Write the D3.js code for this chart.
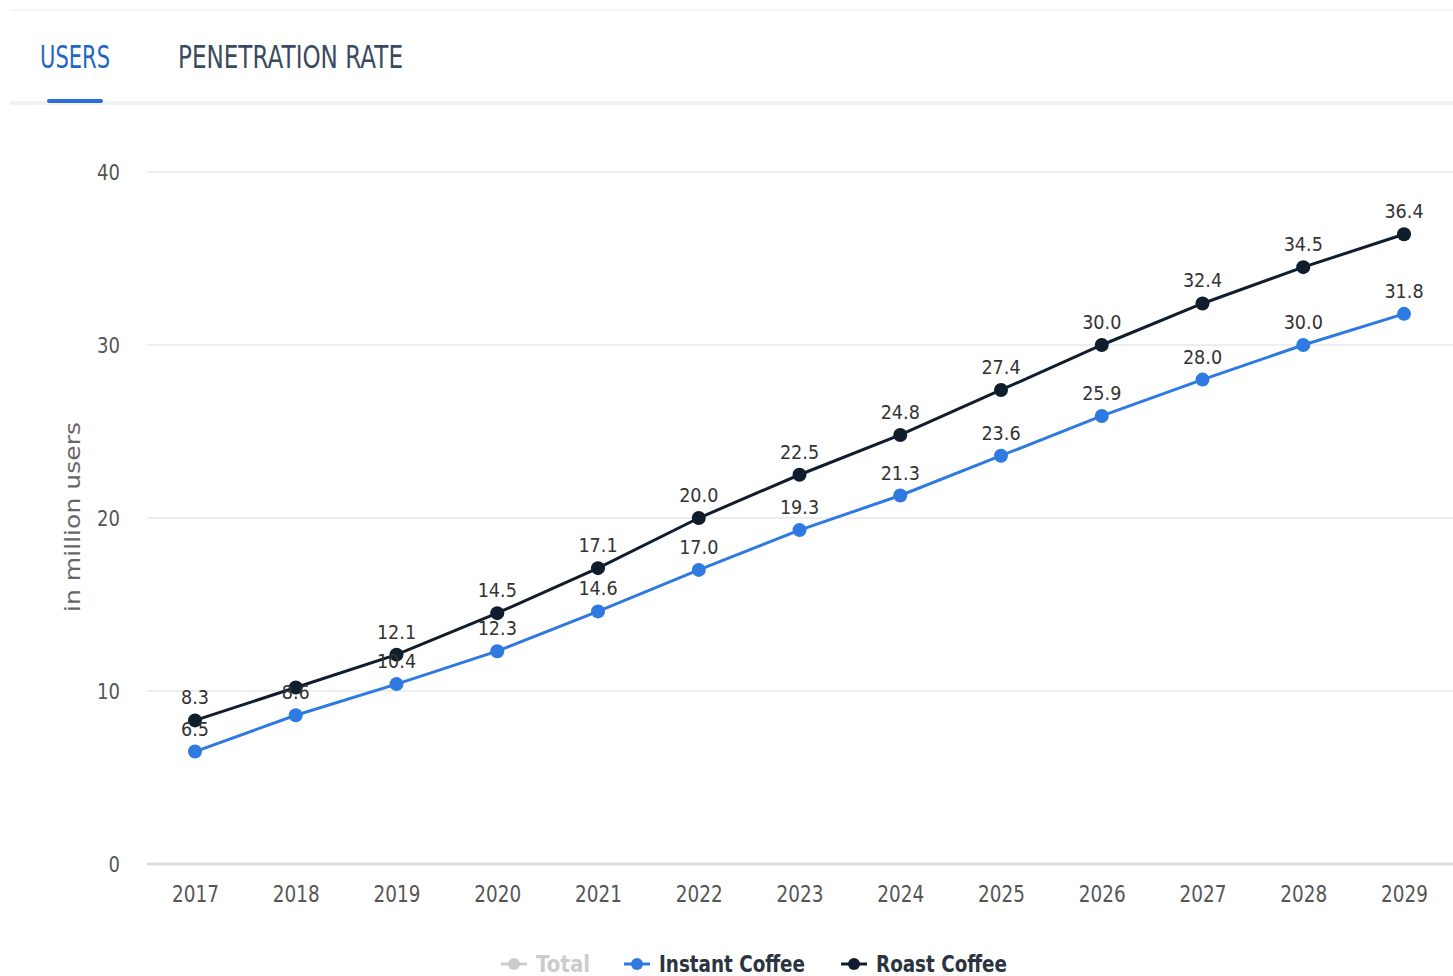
<!DOCTYPE html>
<html>
<head>
<meta charset="utf-8">
<script src="https://cdnjs.cloudflare.com/ajax/libs/d3/7.8.5/d3.min.js"></script>
<style>
  body { margin: 0; background: #fff; }
  svg text { font-family: "DejaVu Sans", sans-serif; }
</style>
</head>
<body>
<script>
// chart data
var years = [2017, 2018, 2019, 2020, 2021, 2022, 2023, 2024, 2025, 2026, 2027, 2028, 2029];
var instantCoffee = [6.5, 8.6, 10.4, 12.3, 14.6, 17.0, 19.3, 21.3, 23.6, 25.9, 28.0, 30.0, 31.8];
var roastCoffee = [8.3, 10.2, 12.1, 14.5, 17.1, 20.0, 22.5, 24.8, 27.4, 30.0, 32.4, 34.5, 36.4];
var yTicks = [0, 10, 20, 30, 40];
var tabs = ["USERS", "PENETRATION RATE"];
var legendItems = ["Total", "Instant Coffee", "Roast Coffee"];

var width = 1453, height = 976;
var blue = "#2f7ae0", navy = "#0f1d2c";

// squeeze text horizontally so it looks like the narrow font of the original
function condense(sel, f) {
  sel.each(function() {
    var w = this.getComputedTextLength();
    d3.select(this).attr("textLength", w * f).attr("lengthAdjust", "spacingAndGlyphs");
  });
}

var svg = d3.select("body").append("svg")
  .attr("width", width)
  .attr("height", height);

// top tabs
svg.append("line").attr("x1", 10).attr("x2", width).attr("y1", 10).attr("y2", 10)
  .attr("stroke", "#f4f4f4").attr("stroke-width", 2);
svg.append("line").attr("x1", 10).attr("x2", width).attr("y1", 103).attr("y2", 103)
  .attr("stroke", "#f2f2f2").attr("stroke-width", 4);

svg.append("text").attr("x", 40).attr("y", 68)
  .attr("font-size", 32).attr("fill", "#2266c4")
  .attr("textLength", 70).attr("lengthAdjust", "spacingAndGlyphs")
  .text(tabs[0]);
svg.append("text").attr("x", 178).attr("y", 68)
  .attr("font-size", 32).attr("fill", "#3b4a5e")
  .attr("textLength", 225).attr("lengthAdjust", "spacingAndGlyphs")
  .text(tabs[1]);
svg.append("rect").attr("x", 47).attr("y", 99).attr("width", 56).attr("height", 4)
  .attr("rx", 2).attr("fill", "#2a6fd6");

// scales
var x = d3.scalePoint().domain(years).range([195, 1404]);
var y = d3.scaleLinear().domain([0, 40]).range([864, 172]);

// grid
var grid = svg.append("g");
grid.selectAll("line").data(yTicks).enter().append("line")
  .attr("x1", 147).attr("x2", width)
  .attr("y1", function(d) { return y(d); })
  .attr("y2", function(d) { return y(d); })
  .attr("stroke", function(d) { return d === 0 ? "#dcdcdc" : "#eeeeee"; })
  .attr("stroke-width", function(d) { return d === 0 ? 3 : 2; });

// y axis
var yAxis = svg.append("g").attr("transform", "translate(120,0)")
  .call(d3.axisLeft(y).tickValues(yTicks).tickSize(0).tickPadding(0));
yAxis.select(".domain").remove();
yAxis.selectAll("text").attr("font-size", 22).attr("fill", "#555").attr("dy", "0.35em")
  .attr("font-family", null).call(condense, 0.82);

svg.append("text")
  .attr("transform", "translate(80,517) rotate(-90)")
  .attr("text-anchor", "middle")
  .attr("font-size", 22).attr("fill", "#666")
  .attr("textLength", 190).attr("lengthAdjust", "spacingAndGlyphs")
  .text("in million users");

// x axis
var xAxis = svg.append("g").attr("transform", "translate(0,886)")
  .call(d3.axisBottom(x).tickSize(0).tickPadding(0));
xAxis.select(".domain").remove();
xAxis.selectAll("text").attr("font-size", 23).attr("fill", "#555").attr("dy", "0.71em")
  .attr("font-family", null).call(condense, 0.8);

// lines
var series = [
  { name: "Roast Coffee", values: roastCoffee, color: navy, hideLabels: [1] },
  { name: "Instant Coffee", values: instantCoffee, color: blue, hideLabels: [] }
];

var line = d3.line()
  .x(function(d, i) { return x(years[i]); })
  .y(function(d) { return y(d); });

series.forEach(function(s) {
  var g = svg.append("g");
  g.append("path").datum(s.values)
    .attr("d", line)
    .attr("fill", "none")
    .attr("stroke", s.color)
    .attr("stroke-width", 3);
  g.selectAll("circle").data(s.values).enter().append("circle")
    .attr("cx", function(d, i) { return x(years[i]); })
    .attr("cy", function(d) { return y(d); })
    .attr("r", 7)
    .attr("fill", s.color);
});

// labels drawn after all lines
series.forEach(function(s) {
  var pts = s.values.map(function(v, i) { return { v: v, i: i }; })
    .filter(function(p) { return s.hideLabels.indexOf(p.i) < 0; });
  svg.append("g").selectAll("text").data(pts).enter()
    .append("text")
    .attr("x", function(p) { return x(years[p.i]); })
    .attr("y", function(p) { return y(p.v) - 16; })
    .attr("text-anchor", "middle")
    .attr("font-size", 20)
    .attr("fill", "#333")
    .text(function(p) { return p.v.toFixed(1); })
    .call(condense, 0.88);
});

// legend
var legendX = [501, 624, 841];
var legendW = [89, 181, 166];
var legendColor = ["#cccccc", blue, navy];
var legendText = ["#cccccc", "#2b3440", "#2b3440"];
var legend = svg.append("g").selectAll("g").data(legendItems).enter().append("g")
  .attr("transform", function(d, i) { return "translate(" + legendX[i] + ",964)"; });
legend.append("line").attr("x1", 0).attr("x2", 26).attr("y1", 0).attr("y2", 0)
  .attr("stroke", function(d, i) { return legendColor[i]; }).attr("stroke-width", 3);
legend.append("circle").attr("cx", 13).attr("cy", 0).attr("r", 6)
  .attr("fill", function(d, i) { return legendColor[i]; });
legend.append("text").attr("x", 35).attr("y", 8)
  .attr("font-size", 23).attr("font-weight", "bold")
  .attr("fill", function(d, i) { return legendText[i]; })
  .attr("textLength", function(d, i) { return legendW[i] - 35; })
  .attr("lengthAdjust", "spacingAndGlyphs")
  .text(function(d) { return d; });
</script>
</body>
</html>
